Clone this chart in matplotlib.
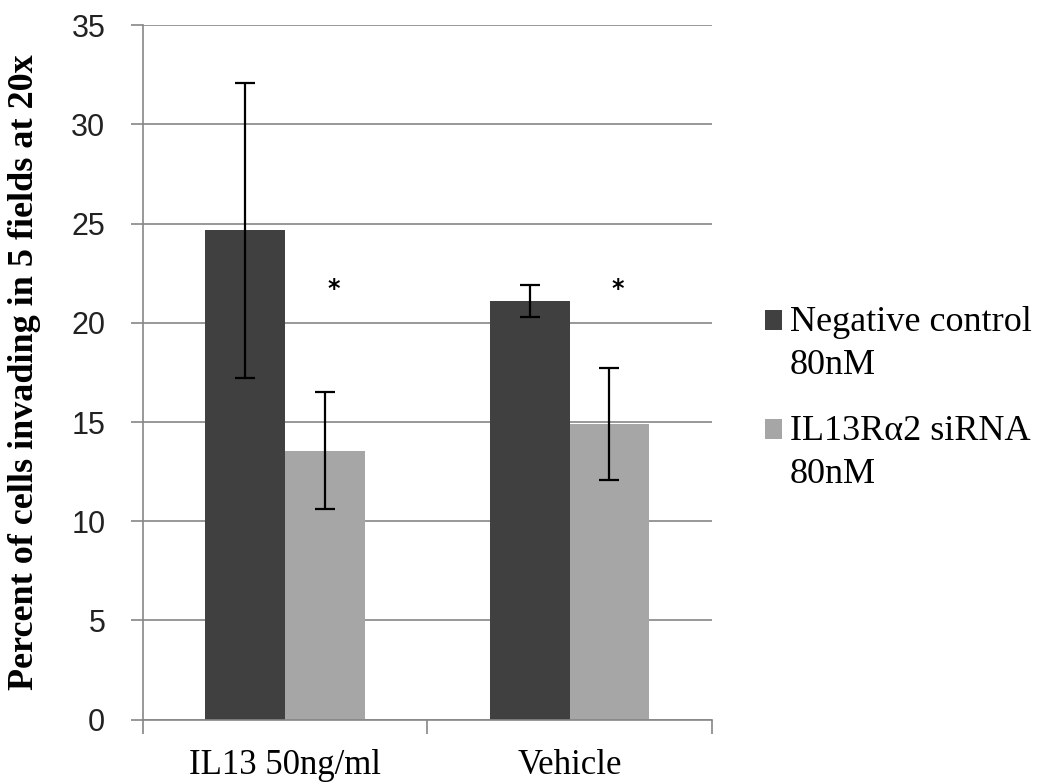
import matplotlib
matplotlib.use("Agg")
import matplotlib.pyplot as plt
from matplotlib.container import BarContainer
from matplotlib.legend_handler import HandlerPatch, update_from_first_child
from matplotlib.patches import Rectangle
import numpy as np

# Data.
groups = ["IL13 50ng/ml", "Vehicle"]
series = ["Negative control\n80nM", "IL13R\u03b12 siRNA\n80nM"]
neg_ctrl = [24.65, 21.1]
neg_ctrl_err = [7.45, 0.8]
sirna = [13.55, 14.9]
sirna_err = [2.95, 2.8]
stars = ["*", "*"]
star_level = [21.7, 21.7]

dark = "#404040"
light = "#a6a6a6"
grid_col = "#868686"

fig = plt.figure(figsize=(10.5, 7.84), dpi=100)
ax = fig.add_axes([0.136, 0.082, 0.542, 0.886])

x = np.arange(len(groups))
w = 0.28
ax.bar(x - w / 2, neg_ctrl, w, color=dark, label=series[0], zorder=2)
ax.bar(x + w / 2, sirna, w, color=light, label=series[1], zorder=2)
ax.errorbar(x - w / 2, neg_ctrl, yerr=neg_ctrl_err, fmt="none", ecolor="black",
            elinewidth=1.6, capsize=7, capthick=1.6, zorder=3)
ax.errorbar(x + w / 2, sirna, yerr=sirna_err, fmt="none", ecolor="black",
            elinewidth=1.6, capsize=7, capthick=1.6, zorder=3)

# significance marks
for xi, s, lv in zip(x + w / 2, stars, star_level):
    ax.text(xi + 0.03, lv, s, ha="center", va="center", fontsize=17,
            fontweight="bold", family="DejaVu Sans")

ax.set_ylim(0, 35)
ax.set_yticks(np.arange(0, 36, 5))
ax.set_xlim(-0.5, 1.5)
ax.set_xticks(x)
ax.set_xticklabels(groups, family="Liberation Serif", fontsize=25)
ax.set_xticks([-0.5, 0.5, 1.5], minor=True)
ax.tick_params(axis="x", which="major", length=0, pad=21)
ax.tick_params(axis="x", which="minor", length=10, width=1.2, color=grid_col)
ax.tick_params(axis="y", length=9, width=1.2, color=grid_col, labelsize=22,
               labelcolor="#222222", pad=18)
for lab in ax.get_yticklabels():
    lab.set_family("Liberation Sans")

ax.yaxis.grid(True, color=grid_col, linewidth=1.2, zorder=0)
ax.set_axisbelow(True)
for side in ["top", "right"]:
    ax.spines[side].set_visible(False)
for side in ["left", "bottom"]:
    ax.spines[side].set_color(grid_col)
    ax.spines[side].set_linewidth(1.2)

ax.set_ylabel("Percent of cells invading in 5 fields at 20x",
              family="Liberation Serif", fontsize=26, fontweight="bold", labelpad=22)


# legend square sits next to the first line of each label
def top_square(legend, orig_handle, xdescent, ydescent, width, height, fontsize):
    return Rectangle((-xdescent, -ydescent + 17), width, height)


leg = fig.legend(loc="center left", bbox_to_anchor=(0.729, 0.492), frameon=False,
                 prop={"family": "Liberation Serif", "size": 26},
                 handlelength=0.47, handleheight=0.47, handletextpad=0.2,
                 labelspacing=0.9, borderpad=0, borderaxespad=0,
                 handler_map={BarContainer: HandlerPatch(
                     patch_func=top_square, update_func=update_from_first_child)})
for t in leg.get_texts():
    t.set_linespacing(1.4)

fig.savefig("out.png", dpi=100)
